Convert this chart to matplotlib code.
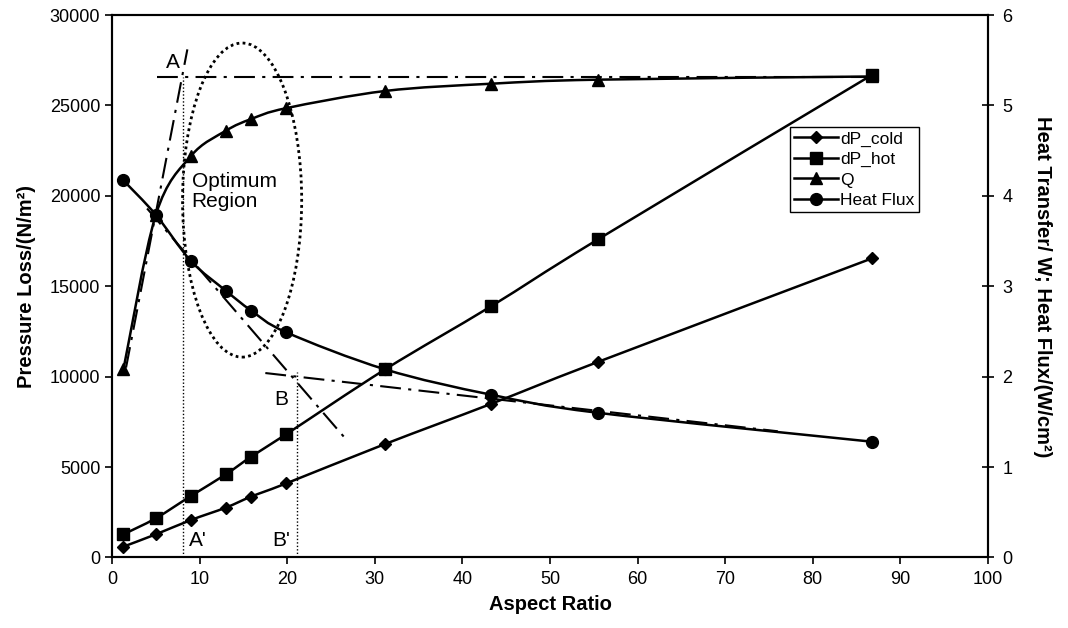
import numpy as np
import matplotlib
matplotlib.use("Agg")
import matplotlib.pyplot as plt
from matplotlib.path import Path
from matplotlib.patches import PathPatch, Ellipse
from matplotlib.lines import Line2D

plt.rcParams['font.family'] = ['Liberation Sans', 'DejaVu Sans']

# ---- data ----
aspect_ratio = [1.3, 5.0, 9.0, 13.0, 15.9, 19.9, 31.2, 43.3, 55.5, 86.8]
dp_cold = [600, 1280, 2070, 2760, 3370, 4100, 6280, 8500, 10820, 16550]
dp_hot = [1280, 2170, 3400, 4600, 5580, 6820, 10410, 13900, 17600, 26700]
q_heat = [2.08, 3.79, 4.44, 4.72, 4.85, 4.97, 5.16, 5.24, 5.285, 5.32]
heat_flux = [4.17, 3.79, 3.28, 2.95, 2.73, 2.49, 2.08, 1.80, 1.60, 1.28]
series_names = ['dP_cold', 'dP_hot', 'Q', 'Heat Flux']

x_ticks = list(range(0, 101, 10))
left_ticks = list(range(0, 30001, 5000))
right_ticks = list(range(0, 7))

# annotation geometry (data units)
line_a_x = [1.6, 8.6]
line_a_y = [10500, 28100]
line_h_x = [5.1, 86.8]
line_h_y = [26550, 26550]
line_f1_x = [4.0, 26.6]
line_f1_y = [19300, 6600]
line_f2_x = [17.5, 76.0]
line_f2_y = [10200, 6980]
vert_a_x, vert_a_top = 8.1, 26550
vert_b_x, vert_b_top = 21.1, 10250
ell_center = (14.85, 19765)
ell_w, ell_h = 13.6, 17370


def smooth_curve(ax, xs, ys, lw=1.8):
    pts = np.column_stack([xs, ys]).astype(float)
    n = len(pts)
    verts = [pts[0]]
    codes = [Path.MOVETO]
    for i in range(n - 1):
        p0 = pts[i - 1] if i > 0 else pts[i]
        p1 = pts[i]
        p2 = pts[i + 1]
        p3 = pts[i + 2] if i + 2 < n else pts[i + 1]
        c1 = p1 + (p2 - p0) / 6.0
        c2 = p2 - (p3 - p1) / 6.0
        verts += [c1, c2, p2]
        codes += [Path.CURVE4] * 3
    patch = PathPatch(Path(verts, codes), fill=False, lw=lw, edgecolor='black',
                      transform=ax.transData, zorder=3, capstyle='round', joinstyle='round')
    ax.add_patch(patch)


fig = plt.figure(figsize=(10.68, 6.28), dpi=100)
ax = fig.add_axes([0.1049, 0.1123, 0.8202, 0.8638])
ax2 = ax.twinx()

ax.set_xlim(0, 100)
ax.set_ylim(0, 30000)
ax2.set_ylim(0, 6)

# series on left axis
smooth_curve(ax, aspect_ratio, dp_cold)
ax.plot(aspect_ratio, dp_cold, linestyle='none', marker='D', color='black', markersize=6.5, zorder=4)
smooth_curve(ax, aspect_ratio, dp_hot)
ax.plot(aspect_ratio, dp_hot, linestyle='none', marker='s', color='black', markersize=8, zorder=4)
# series on right axis
smooth_curve(ax2, aspect_ratio, q_heat)
ax2.plot(aspect_ratio, q_heat, linestyle='none', marker='^', color='black', markersize=8.5, zorder=4)
smooth_curve(ax2, aspect_ratio, heat_flux)
ax2.plot(aspect_ratio, heat_flux, linestyle='none', marker='o', color='black', markersize=8.5, zorder=4)

# annotation lines
dashdot = (0, (10, 3.5, 1.5, 3.5))
ax.plot(line_a_x, line_a_y, color='black', lw=1.5, linestyle=dashdot, zorder=2)
ax.plot(line_h_x, line_h_y, color='black', lw=1.5, linestyle=dashdot, zorder=2)
ax.plot(line_f1_x, line_f1_y, color='black', lw=1.5, linestyle=dashdot, zorder=2)
ax.plot(line_f2_x, line_f2_y, color='black', lw=1.5, linestyle=dashdot, zorder=2)
ax.plot([vert_a_x, vert_a_x], [0, vert_a_top], color='black', lw=1.0, linestyle=(0, (1, 1.5)), zorder=2)
ax.plot([vert_b_x, vert_b_x], [0, vert_b_top], color='black', lw=1.0, linestyle=(0, (1, 1.5)), zorder=2)
ax.add_patch(Ellipse(ell_center, ell_w, ell_h, fill=False, edgecolor='black', lw=2.0,
                     linestyle=(0, (1, 1.2)), zorder=2))

ann_fs = 15
ax.text(6.9, 27400, 'A', fontsize=ann_fs, ha='center', va='center')
ax.text(9.8, 950, "A'", fontsize=ann_fs, ha='center', va='center')
ax.text(19.3, 8750, 'B', fontsize=ann_fs, ha='center', va='center')
ax.text(19.3, 950, "B'", fontsize=ann_fs, ha='center', va='center')
ax.text(9.1, 20250, 'Optimum\nRegion', fontsize=ann_fs, ha='left', va='center', linespacing=1.05)

# axes styling
ax.set_xticks(x_ticks)
ax.set_yticks(left_ticks)
ax2.set_yticks(right_ticks)
ax.tick_params(axis='both', direction='out', length=5, width=1.2, labelsize=13, top=False, right=False)
ax.tick_params(axis='x', pad=5)
ax2.tick_params(axis='y', direction='inout', length=9, width=1.2, labelsize=13, pad=6)
for a in (ax, ax2):
    for s in a.spines.values():
        s.set_linewidth(1.5)

ax.set_xlabel('Aspect Ratio', fontsize=14.5, fontweight='bold', labelpad=5)
ax.set_ylabel('Pressure Loss/(N/m²)', fontsize=14.5, fontweight='bold', labelpad=10)
ax2.set_ylabel('Heat Transfer/ W; Heat Flux/(W/cm²)', fontsize=14.5, fontweight='bold',
               rotation=270, labelpad=28)

markers = ['D', 's', '^', 'o']
msizes = [6.5, 8, 8.5, 8.5]
handles = [Line2D([], [], color='black', lw=1.8, marker=m, markersize=ms) for m, ms in zip(markers, msizes)]
leg = ax2.legend(handles, series_names, loc='upper left', bbox_to_anchor=(0.774, 0.7935),
                 fontsize=12.5, frameon=True, fancybox=False, edgecolor='black', framealpha=1,
                 borderpad=0.25, labelspacing=0.3, handlelength=2.5, handletextpad=0.15,
                 borderaxespad=0)
leg.get_frame().set_linewidth(1.0)

fig.savefig('out.png', dpi=100)
